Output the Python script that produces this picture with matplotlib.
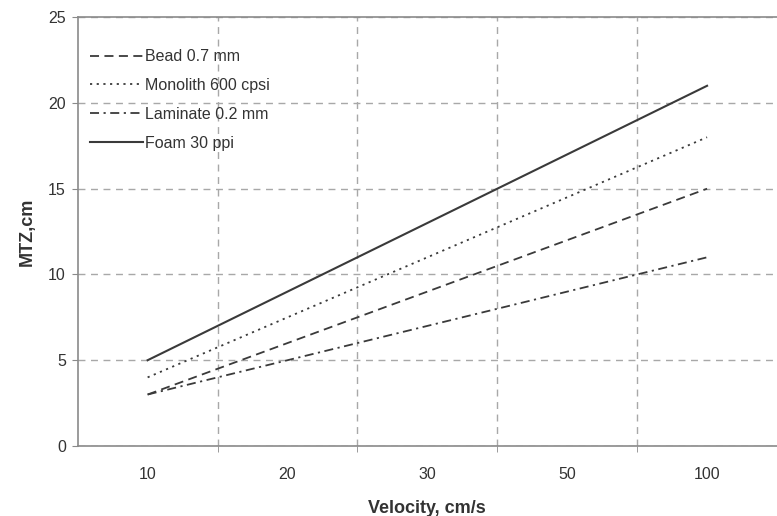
import matplotlib
matplotlib.use("Agg")
import matplotlib.pyplot as plt
import numpy as np

# Data
velocity = ["10", "20", "30", "50", "100"]
bead = [3, 6, 9, 12, 15]
monolith = [4, 7.5, 11, 14.5, 18]
laminate = [3, 5, 7, 9, 11]
foam = [5, 9, 13, 17, 21]

plt.rcParams["font.family"] = ["Liberation Sans", "DejaVu Sans"]

LINE = "#3a3a3a"
GRID = "#a8a8a8"
SPINE = "#8a8a8a"
TEXT = "#333333"

fig = plt.figure(figsize=(7.77, 5.16), dpi=100)
ax = fig.add_axes([0.1, 0.1357, 0.9, 0.831])

x = np.arange(len(velocity))
ax.plot(x, bead, color=LINE, lw=1.3, ls=(0, (5, 3)), label="Bead 0.7 mm")
ax.plot(x, monolith, color=LINE, lw=1.3, ls=(0, (1.2, 2.5)), label="Monolith 600 cpsi")
ax.plot(x, laminate, color=LINE, lw=1.3, ls=(0, (5, 2.5, 1.2, 2.5)), label="Laminate 0.2 mm")
ax.plot(x, foam, color=LINE, lw=1.5, ls="-", label="Foam 30 ppi")

ax.set_xlim(-0.5, len(velocity) - 0.5)
ax.set_ylim(0, 25)
ax.set_xticks(x)
ax.set_xticklabels(velocity)
ax.set_xticks(x[:-1] + 0.5, minor=True)
ax.set_yticks(range(0, 26, 5))

ax.grid(True, which="minor", axis="x", color=GRID, ls=(0, (5, 4)), lw=1.0)
ax.grid(True, which="major", axis="y", color=GRID, ls=(0, (5, 4)), lw=1.0)
ax.set_axisbelow(True)

ax.tick_params(axis="x", which="major", length=0, pad=15, labelsize=11.5)
ax.tick_params(axis="x", which="minor", length=4, color=SPINE, direction="out")
ax.tick_params(axis="y", length=4, color=SPINE, labelsize=11.5, pad=4.5)
for t in ax.get_xticklabels() + ax.get_yticklabels():
    t.set_color(TEXT)

for side in ["left", "bottom", "top"]:
    ax.spines[side].set_color(SPINE)
    ax.spines[side].set_linewidth(1.2)
ax.spines["right"].set_visible(False)

ax.set_xlabel("Velocity, cm/s", fontsize=13, fontweight="bold", color=TEXT, labelpad=13)
ax.set_ylabel("MTZ,cm", fontsize=13, fontweight="bold", color=TEXT, labelpad=9)

leg = ax.legend(loc="upper left", bbox_to_anchor=(-0.003, 0.959), frameon=False,
                fontsize=11.5, handlelength=3.3, handletextpad=0.15, labelspacing=0.87,
                borderaxespad=0.5)
for t in leg.get_texts():
    t.set_color(TEXT)

fig.savefig("out.png", dpi=100)
